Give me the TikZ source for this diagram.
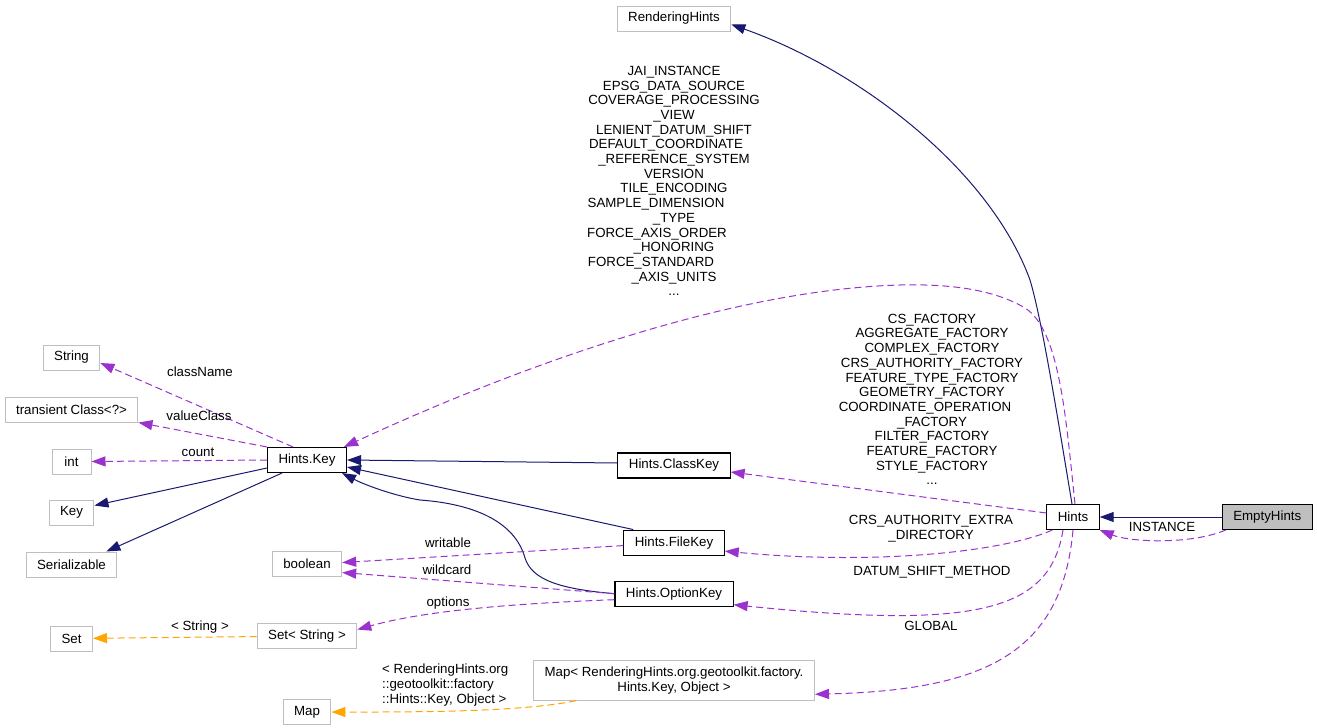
\documentclass[tikz,border=0pt]{standalone}
\usepackage{fontspec}
\setmainfont{Liberation Sans}
\usetikzlibrary{positioning, arrows.meta}
\definecolor{edgeblue}{HTML}{191970}
\definecolor{edgepurple}{HTML}{9A32CD}
\definecolor{edgeorange}{HTML}{FFA500}
\definecolor{boxgray}{HTML}{BFBFBF}

\begin{document}
\begin{tikzpicture}[
        x=1pt, y=-1pt,
        every node/.style={font=\fontsize{13.3}{14.7}\selectfont},
        cls/.style={rectangle, draw=black, line width=1.1pt, minimum height=25pt, minimum width=39pt, inner xsep=11pt, inner ysep=2pt},
        ext/.style={cls, draw=boxgray, line width=1pt},
        lbl/.style={align=center, inner sep=0pt},
        inherit/.style={-{Triangle[length=14pt, width=10pt]}, edgeblue, line width=1pt},
        member/.style={-{Triangle[length=14pt, width=10pt]}, edgepurple, line width=1pt, dash pattern=on 7pt off 4pt},
        tmpl/.style={member, edgeorange}
    ]
        \useasboundingbox (0,0) rectangle (1317,728);

        % Left column
        \node[ext] (str) at (71.5,357.5) {String};
        \node[ext, below=26pt of str] (tclass) {transient Class<?>};
        \node[ext, below=26pt of tclass] (int) {int};
        \node[ext, below=25pt of int] (key) {Key};
        \node[ext, below=26pt of key] (ser) {Serializable};
        \node[ext, below=48pt of ser] (set) {Set};

        % Hints.Key column
        \node[cls] (hkey) at (307,460) {Hints.Key};
        \node[ext, below=78pt of hkey] (bool) {boolean};
        \node[ext, below=46pt of bool] (sstr) {Set< String >};
        \node[ext, below=50pt of sstr] (map) {Map};

        % Key classes
        \node[ext] (rh) at (674,18.5) {RenderingHints};
        \node[cls] (ckey) at (674,465.5) {Hints.ClassKey};
        \node[cls, below=51pt of ckey] (fkey) {Hints.FileKey};
        \node[cls, below=25pt of fkey] (okey) {Hints.OptionKey};
        \node[ext, below=53pt of okey, minimum height=40pt, align=center] (mapk) {Map< RenderingHints.org.geotoolkit.factory.\\Hints.Key, Object >};

        % Hints
        \node[cls] (hints) at (1073,517) {Hints};
        \node[cls, fill=boxgray, right=122pt of hints] (empty) {EmptyHints};

        % Inheritance
        \draw[inherit] (empty) -- (hints);
        \draw[inherit] ([xshift=-1pt]hints.north) .. controls (1058,420) and (1042,320) .. (1030,280) .. controls (990,170) and (860,70) .. ([yshift=-6pt]rh.east);
        \draw[inherit] ([yshift=2.5pt]ckey.west) -- (hkey.east);
        \draw[inherit] ([xshift=10pt]fkey.north west) -- ([yshift=-7pt]hkey.east);
        \draw[inherit] (okey.west) .. controls (560,589) and (532,580) .. (525,558) .. controls (515,522) and (475,504) .. (420,500) .. controls (395,496) and (365,485) .. ([xshift=-5pt]hkey.south east);
        \draw[inherit] ([yshift=-8pt]hkey.west) -- ([yshift=7pt]key.east);
        \draw[inherit] ([xshift=-25pt]hkey.south) -- ([xshift=-11pt]ser.north east);

        % Members
        \draw[member] ([xshift=-14pt]hkey.north) -- ([yshift=-5.5pt]str.east);
        \draw[member] (hkey.north west) -- (tclass.south east);
        \draw[member] (hkey.west) -- (int.east);
        \draw[member] ([xshift=2pt]hints.north) .. controls (1066,420) and (1060,330) .. (1025,308) .. controls (990,287) and (940,284) .. (900,285) .. controls (720,290) and (500,375) .. ([xshift=-3pt]hkey.north east);
        \draw[member] ([yshift=4pt]hints.west) -- ([yshift=-6.5pt]ckey.east);
        \draw[member] ([xshift=6pt]hints.south west) .. controls (1000,553) and (870,565) .. ([yshift=-8.5pt]fkey.east);
        \draw[member] ([xshift=-10pt]hints.south) .. controls (1050,610) and (980,630) .. ([yshift=-11pt]okey.east);
        \draw[member] (hints.south) .. controls (1062,650) and (990,690) .. ([yshift=-14pt]mapk.east);
        \draw[member] ([xshift=4pt]empty.south west) .. controls (1190,545) and (1130,542) .. (hints.south east);
        \draw[member] ([yshift=-3pt]fkey.west) -- ([yshift=1.5pt]bool.east);
        \draw[member] (okey.west) -- ([yshift=-8.5pt]bool.east);
        \draw[member] ([yshift=-6pt]okey.west) .. controls (500,604) and (420,612) .. ([yshift=6.5pt]sstr.east);

        % Templates
        \draw[tmpl] (sstr) -- (set);
        \draw[tmpl] ([xshift=-98pt]mapk.south) .. controls (520,712) and (420,712) .. (map.east);

        % Labels
        \node[lbl] (l_cname) at (200,372) {className};
        \node[lbl] (l_vclass) at (199,416) {valueClass};
        \node[lbl] (l_count) at (198,452) {count};
        \node[lbl] (l_keys) at (674,181) {JAI\_INSTANCE\\EPSG\_DATA\_SOURCE\\COVERAGE\_PROCESSING\\\_VIEW\\LENIENT\_DATUM\_SHIFT\\DEFAULT\_COORDINATE\kern16pt\\\_REFERENCE\_SYSTEM\\VERSION\\TILE\_ENCODING\\SAMPLE\_DIMENSION\kern36pt\\\_TYPE\\FORCE\_AXIS\_ORDER\kern34pt\\\_HONORING\\FORCE\_STANDARD\kern46pt\\\_AXIS\_UNITS\\...};
        \node[lbl] (l_factories) at (932,399.5) {CS\_FACTORY\\AGGREGATE\_FACTORY\\COMPLEX\_FACTORY\\CRS\_AUTHORITY\_FACTORY\\FEATURE\_TYPE\_FACTORY\\GEOMETRY\_FACTORY\\COORDINATE\_OPERATION\kern14pt\\\_FACTORY\\FILTER\_FACTORY\\FEATURE\_FACTORY\\STYLE\_FACTORY\\...};
        \node[lbl] (l_crs) at (931,529) {CRS\_AUTHORITY\_EXTRA\\\_DIRECTORY};
        \node[lbl] (l_datum) at (932,572) {DATUM\_SHIFT\_METHOD};
        \node[lbl] (l_global) at (931,626) {GLOBAL};
        \node[lbl] (l_inst) at (1162,527) {INSTANCE};
        \node[lbl] (l_writable) at (448,543) {writable};
        \node[lbl] (l_wildcard) at (447,570) {wildcard};
        \node[lbl] (l_options) at (448,603) {options};
        \node[lbl] (l_str) at (200,627) {< String >};
        \node[lbl, align=left, anchor=west] (l_maptype) at (382,685) {< RenderingHints.org\\::geotoolkit::factory\\::Hints::Key, Object >};
    \end{tikzpicture}
\end{document}
